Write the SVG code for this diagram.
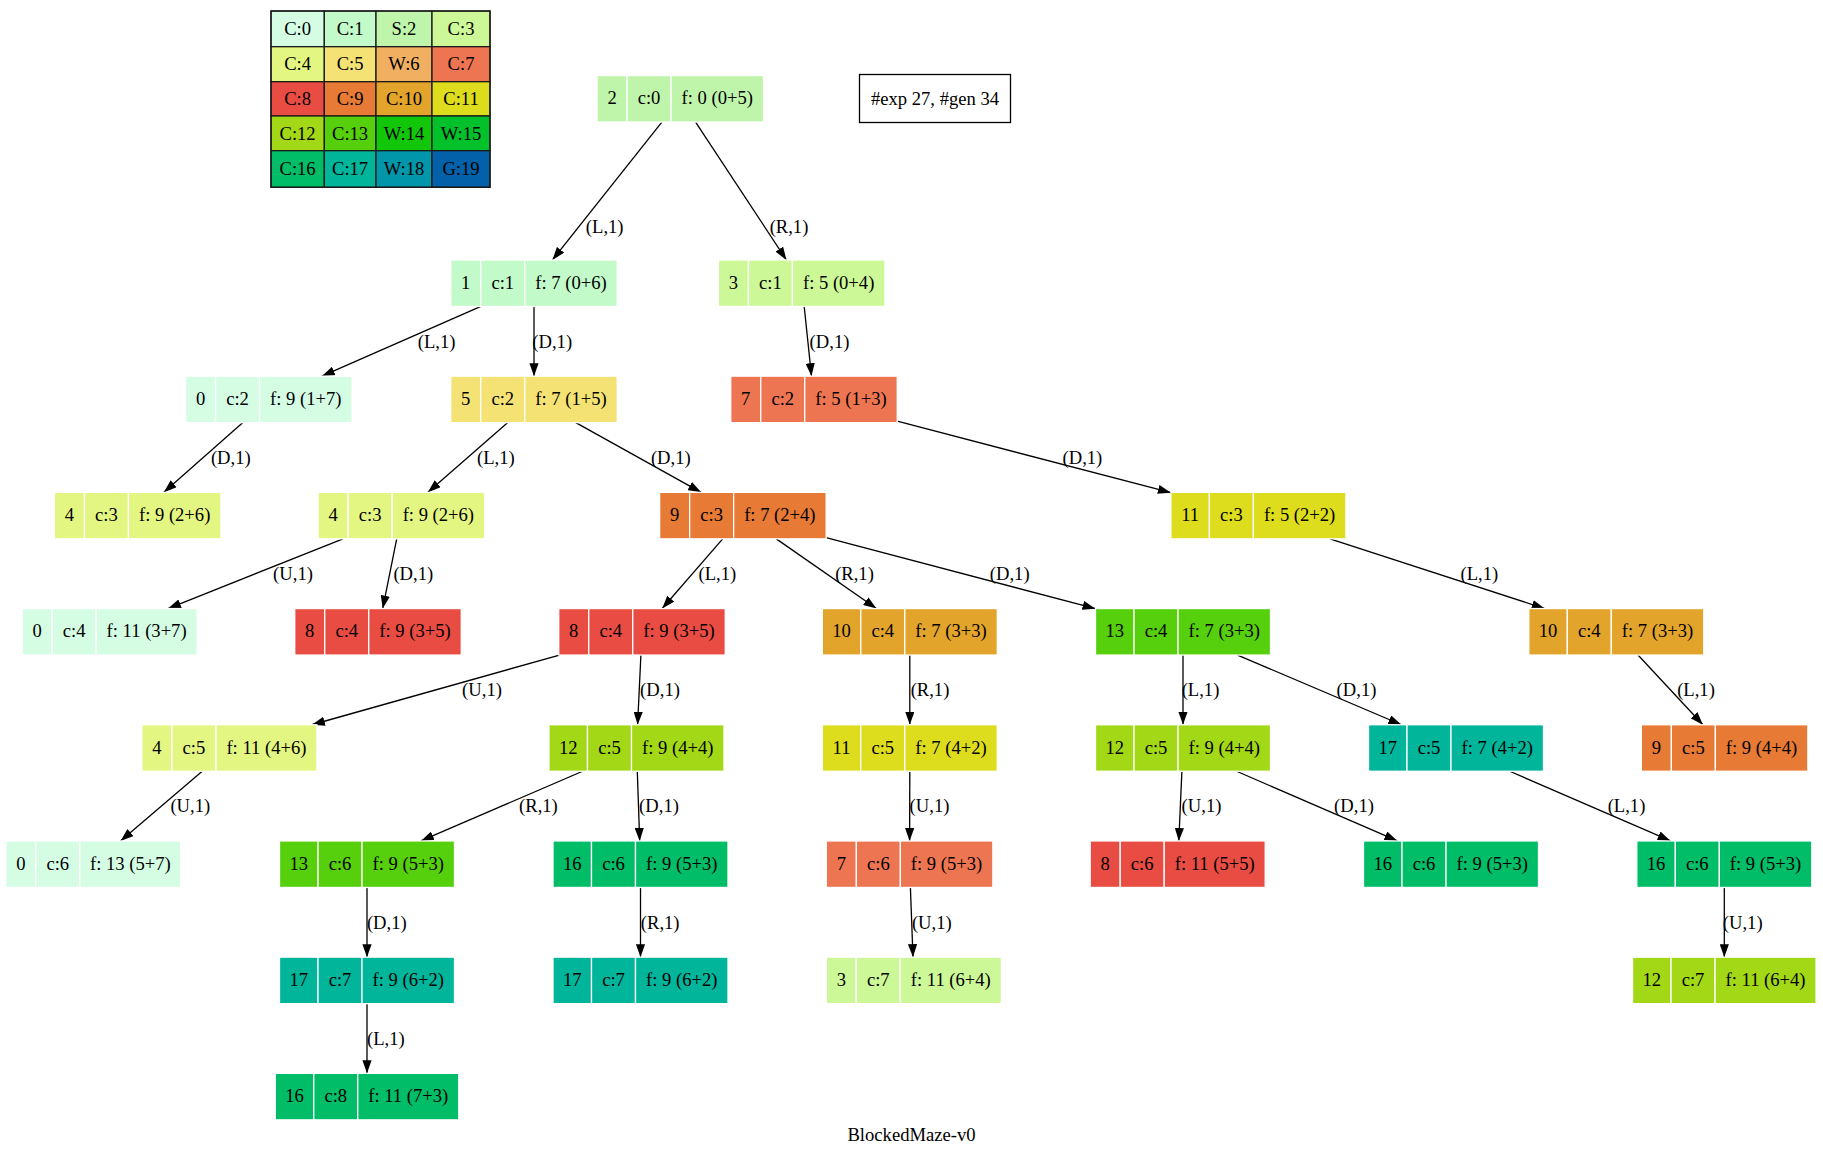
<svg xmlns="http://www.w3.org/2000/svg" width="1823" height="1155" viewBox="0 0 1823 1155">
<defs>
<style>
text{font-family:"Liberation Serif","Times New Roman",serif;font-size:18.6px;fill:#000;text-anchor:middle}
.node rect{stroke:#fff;stroke-width:1.3}
.leg rect{stroke:#1a1a1a;stroke-width:1.3}
#edges path{fill:none;stroke:#000;stroke-width:1.3;marker-end:url(#ah)}
.k0{fill:#d4fde4}.k1{fill:#c3fac9}.k2{fill:#bff5aa}.k3{fill:#cdf897}.k4{fill:#e4f682}
.k5{fill:#f4e374}.k6{fill:#f1b061}.k7{fill:#ee7552}.k8{fill:#e84c43}.k9{fill:#e77a34}
.k10{fill:#e2a42b}.k11{fill:#dedd1d}.k12{fill:#a3d816}.k13{fill:#56cf0d}.k14{fill:#12c70a}
.k15{fill:#03c12a}.k16{fill:#02bd68}.k17{fill:#01b59b}.k18{fill:#0196aa}.k19{fill:#0261a8}
</style>
<marker id="ah" viewBox="0 0 13 9.2" refX="13" refY="4.6" markerWidth="13" markerHeight="9.2" orient="auto" markerUnits="userSpaceOnUse">
<path d="M0,0 L13,4.6 L0,9.2 z" fill="#000"/>
</marker>
</defs>
<rect width="1823" height="1155" fill="#fff"/>

<!-- legend grid of cell kinds -->
<g id="legend" class="leg">
<rect class="k0" x="271" y="11" width="53.3" height="35.7"/><rect class="k1" x="324.3" y="11" width="51.7" height="35.7"/><rect class="k2" x="376" y="11" width="56" height="35.7"/><rect class="k3" x="432" y="11" width="58" height="35.7"/>
<rect class="k4" x="271" y="46.7" width="53.3" height="35"/><rect class="k5" x="324.3" y="46.7" width="51.7" height="35"/><rect class="k6" x="376" y="46.7" width="56" height="35"/><rect class="k7" x="432" y="46.7" width="58" height="35"/>
<rect class="k8" x="271" y="81.7" width="53.3" height="34.3"/><rect class="k9" x="324.3" y="81.7" width="51.7" height="34.3"/><rect class="k10" x="376" y="81.7" width="56" height="34.3"/><rect class="k11" x="432" y="81.7" width="58" height="34.3"/>
<rect class="k12" x="271" y="116" width="53.3" height="34.7"/><rect class="k13" x="324.3" y="116" width="51.7" height="34.7"/><rect class="k14" x="376" y="116" width="56" height="34.7"/><rect class="k15" x="432" y="116" width="58" height="34.7"/>
<rect class="k16" x="271" y="150.7" width="53.3" height="36.6"/><rect class="k17" x="324.3" y="150.7" width="51.7" height="36.6"/><rect class="k18" x="376" y="150.7" width="56" height="36.6"/><rect class="k19" x="432" y="150.7" width="58" height="36.6"/>
<rect x="271" y="11" width="219" height="176.3" fill="none" stroke="#1a1a1a" stroke-width="2.8"/>
<text x="297.6" y="35">C:0</text><text x="350.1" y="35">C:1</text><text x="404" y="35">S:2</text><text x="461" y="35">C:3</text>
<text x="297.6" y="70.3">C:4</text><text x="350.1" y="70.3">C:5</text><text x="404" y="70.3">W:6</text><text x="461" y="70.3">C:7</text>
<text x="297.6" y="105">C:8</text><text x="350.1" y="105">C:9</text><text x="404" y="105">C:10</text><text x="461" y="105">C:11</text>
<text x="297.6" y="139.5">C:12</text><text x="350.1" y="139.5">C:13</text><text x="404" y="139.5">W:14</text><text x="461" y="139.5">W:15</text>
<text x="297.6" y="175">C:16</text><text x="350.1" y="175">C:17</text><text x="404" y="175">W:18</text><text x="461" y="175">G:19</text>
</g>

<!-- search statistics -->
<g id="stats">
<rect x="859.5" y="74.5" width="151" height="48" fill="#fff" stroke="#000" stroke-width="1.3"/>
<text x="935" y="104.5">#exp 27, #gen 34</text>
</g>

<!-- connectors -->
<g id="edges">
<path d="M661.85,122.05 L552.45,259.95"/>
<path d="M695.6,122.05 L786.4,259.95"/>
<path d="M480.9,306.45 L321.9,376.15"/>
<path d="M534,306.45 L534,376.15"/>
<path d="M804.2,306.45 L811.5,376.15"/>
<path d="M242.6,422.65 L163.9,492.35"/>
<path d="M507.5,422.65 L427.9,492.35"/>
<path d="M575.8,422.65 L701.1,492.35"/>
<path d="M897.25,421.2 L1170.9,492.7"/>
<path d="M343,538.85 L168,608.55"/>
<path d="M396.7,538.85 L382.7,608.55"/>
<path d="M722.7,538.85 L662.2,608.55"/>
<path d="M776.3,538.85 L876.4,608.55"/>
<path d="M826.15,537.6 L1095.5,608.7"/>
<path d="M1330,538.85 L1544.7,608.55"/>
<path d="M559.5,655.05 L311.9,724.75"/>
<path d="M640.9,655.05 L637.6,724.75"/>
<path d="M909.8,655.05 L909.8,724.75"/>
<path d="M1183,655.05 L1183,724.75"/>
<path d="M1237.6,655.05 L1401.4,724.75"/>
<path d="M1638,655.05 L1702.9,724.75"/>
<path d="M202.2,771.25 L120.5,840.95"/>
<path d="M582.6,771.25 L420.9,840.95"/>
<path d="M637.3,771.25 L639.7,840.95"/>
<path d="M909.8,771.25 L909.6,840.95"/>
<path d="M1181.9,771.25 L1178.8,840.95"/>
<path d="M1236.6,771.25 L1397.4,840.95"/>
<path d="M1509.7,771.25 L1670.6,840.95"/>
<path d="M367,887.45 L367,957.15"/>
<path d="M640.5,887.45 L640.5,957.15"/>
<path d="M910.4,887.45 L913,957.15"/>
<path d="M1724.3,887.45 L1724.3,957.15"/>
<path d="M367,1003.65 L367,1073.35"/>
</g>

<!-- connector labels -->
<g id="edge-labels">
<text x="604.7" y="232.7">(L,1)</text>
<text x="789" y="232.7">(R,1)</text>
<text x="436.6" y="347.6">(L,1)</text>
<text x="552.2" y="347.6">(D,1)</text>
<text x="829.5" y="347.6">(D,1)</text>
<text x="230.8" y="463.8">(D,1)</text>
<text x="495.8" y="463.8">(L,1)</text>
<text x="670.8" y="463.8">(D,1)</text>
<text x="1082.4" y="463.8">(D,1)</text>
<text x="293" y="580">(U,1)</text>
<text x="413.3" y="580">(D,1)</text>
<text x="717.3" y="580">(L,1)</text>
<text x="854.5" y="580">(R,1)</text>
<text x="1009.7" y="580">(D,1)</text>
<text x="1479.4" y="580">(L,1)</text>
<text x="482" y="696.2">(U,1)</text>
<text x="660" y="696.2">(D,1)</text>
<text x="930" y="696.2">(R,1)</text>
<text x="1200.5" y="696.2">(L,1)</text>
<text x="1356.5" y="696.2">(D,1)</text>
<text x="1696" y="696.2">(L,1)</text>
<text x="190.3" y="812.4">(U,1)</text>
<text x="538.4" y="812.4">(R,1)</text>
<text x="659" y="812.4">(D,1)</text>
<text x="929.5" y="812.4">(U,1)</text>
<text x="1201.5" y="812.4">(U,1)</text>
<text x="1354" y="812.4">(D,1)</text>
<text x="1626.5" y="812.4">(L,1)</text>
<text x="386.8" y="928.6">(D,1)</text>
<text x="660.2" y="928.6">(R,1)</text>
<text x="931.8" y="928.6">(U,1)</text>
<text x="1742.7" y="928.6">(U,1)</text>
<text x="385.8" y="1044.8">(L,1)</text>
</g>

<!-- search tree nodes: id | cost | f-value -->
<g id="n2" class="node" transform="translate(597.05,75.55)"><rect class="k2" width="30" height="46.5"/><rect class="k2" x="30" width="44" height="46.5"/><rect class="k2" x="74" width="92.5" height="46.5"/><text x="15" y="28.8">2</text><text x="52" y="28.8">c:0</text><text x="120.2" y="28.8">f: 0 (0+5)</text></g>

<g id="n1" class="node" transform="translate(450.75,259.95)"><rect class="k1" width="30" height="46.5"/><rect class="k1" x="30" width="44" height="46.5"/><rect class="k1" x="74" width="92.5" height="46.5"/><text x="15" y="28.8">1</text><text x="52" y="28.8">c:1</text><text x="120.2" y="28.8">f: 7 (0+6)</text></g>
<g id="n3" class="node" transform="translate(718.45,259.95)"><rect class="k3" width="30" height="46.5"/><rect class="k3" x="30" width="44" height="46.5"/><rect class="k3" x="74" width="92.5" height="46.5"/><text x="15" y="28.8">3</text><text x="52" y="28.8">c:1</text><text x="120.2" y="28.8">f: 5 (0+4)</text></g>

<g id="n0a" class="node" transform="translate(185.55,376.15)"><rect class="k0" width="30" height="46.5"/><rect class="k0" x="30" width="44" height="46.5"/><rect class="k0" x="74" width="92.5" height="46.5"/><text x="15" y="28.8">0</text><text x="52" y="28.8">c:2</text><text x="120.2" y="28.8">f: 9 (1+7)</text></g>
<g id="n5" class="node" transform="translate(450.75,376.15)"><rect class="k5" width="30" height="46.5"/><rect class="k5" x="30" width="44" height="46.5"/><rect class="k5" x="74" width="92.5" height="46.5"/><text x="15" y="28.8">5</text><text x="52" y="28.8">c:2</text><text x="120.2" y="28.8">f: 7 (1+5)</text></g>
<g id="n7a" class="node" transform="translate(730.75,376.15)"><rect class="k7" width="30" height="46.5"/><rect class="k7" x="30" width="44" height="46.5"/><rect class="k7" x="74" width="92.5" height="46.5"/><text x="15" y="28.8">7</text><text x="52" y="28.8">c:2</text><text x="120.2" y="28.8">f: 5 (1+3)</text></g>

<g id="n4a" class="node" transform="translate(54.45,492.35)"><rect class="k4" width="30" height="46.5"/><rect class="k4" x="30" width="44" height="46.5"/><rect class="k4" x="74" width="92.5" height="46.5"/><text x="15" y="28.8">4</text><text x="52" y="28.8">c:3</text><text x="120.2" y="28.8">f: 9 (2+6)</text></g>
<g id="n4b" class="node" transform="translate(318.15,492.35)"><rect class="k4" width="30" height="46.5"/><rect class="k4" x="30" width="44" height="46.5"/><rect class="k4" x="74" width="92.5" height="46.5"/><text x="15" y="28.8">4</text><text x="52" y="28.8">c:3</text><text x="120.2" y="28.8">f: 9 (2+6)</text></g>
<g id="n9a" class="node" transform="translate(659.65,492.35)"><rect class="k9" width="30" height="46.5"/><rect class="k9" x="30" width="44" height="46.5"/><rect class="k9" x="74" width="92.5" height="46.5"/><text x="15" y="28.8">9</text><text x="52" y="28.8">c:3</text><text x="120.2" y="28.8">f: 7 (2+4)</text></g>
<g id="n11a" class="node" transform="translate(1170.9,492.35)"><rect class="k11" width="38.5" height="46.5"/><rect class="k11" x="38.5" width="44" height="46.5"/><rect class="k11" x="82.5" width="92.5" height="46.5"/><text x="19.2" y="28.8">11</text><text x="60.5" y="28.8">c:3</text><text x="128.7" y="28.8">f: 5 (2+2)</text></g>

<g id="n0b" class="node" transform="translate(22.1,608.55)"><rect class="k0" width="30" height="46.5"/><rect class="k0" x="30" width="44" height="46.5"/><rect class="k0" x="74" width="101" height="46.5"/><text x="15" y="28.8">0</text><text x="52" y="28.8">c:4</text><text x="124.5" y="28.8">f: 11 (3+7)</text></g>
<g id="n8a" class="node" transform="translate(294.75,608.55)"><rect class="k8" width="30" height="46.5"/><rect class="k8" x="30" width="44" height="46.5"/><rect class="k8" x="74" width="92.5" height="46.5"/><text x="15" y="28.8">8</text><text x="52" y="28.8">c:4</text><text x="120.2" y="28.8">f: 9 (3+5)</text></g>
<g id="n8b" class="node" transform="translate(558.75,608.55)"><rect class="k8" width="30" height="46.5"/><rect class="k8" x="30" width="44" height="46.5"/><rect class="k8" x="74" width="92.5" height="46.5"/><text x="15" y="28.8">8</text><text x="52" y="28.8">c:4</text><text x="120.2" y="28.8">f: 9 (3+5)</text></g>
<g id="n10a" class="node" transform="translate(822.3,608.55)"><rect class="k10" width="38.5" height="46.5"/><rect class="k10" x="38.5" width="44" height="46.5"/><rect class="k10" x="82.5" width="92.5" height="46.5"/><text x="19.2" y="28.8">10</text><text x="60.5" y="28.8">c:4</text><text x="128.7" y="28.8">f: 7 (3+3)</text></g>
<g id="n13a" class="node" transform="translate(1095.5,608.55)"><rect class="k13" width="38.5" height="46.5"/><rect class="k13" x="38.5" width="44" height="46.5"/><rect class="k13" x="82.5" width="92.5" height="46.5"/><text x="19.2" y="28.8">13</text><text x="60.5" y="28.8">c:4</text><text x="128.7" y="28.8">f: 7 (3+3)</text></g>
<g id="n10b" class="node" transform="translate(1528.8,608.55)"><rect class="k10" width="38.5" height="46.5"/><rect class="k10" x="38.5" width="44" height="46.5"/><rect class="k10" x="82.5" width="92.5" height="46.5"/><text x="19.2" y="28.8">10</text><text x="60.5" y="28.8">c:4</text><text x="128.7" y="28.8">f: 7 (3+3)</text></g>

<g id="n4c" class="node" transform="translate(141.9,724.75)"><rect class="k4" width="30" height="46.5"/><rect class="k4" x="30" width="44" height="46.5"/><rect class="k4" x="74" width="101" height="46.5"/><text x="15" y="28.8">4</text><text x="52" y="28.8">c:5</text><text x="124.5" y="28.8">f: 11 (4+6)</text></g>
<g id="n12a" class="node" transform="translate(549,724.75)"><rect class="k12" width="38.5" height="46.5"/><rect class="k12" x="38.5" width="44" height="46.5"/><rect class="k12" x="82.5" width="92.5" height="46.5"/><text x="19.2" y="28.8">12</text><text x="60.5" y="28.8">c:5</text><text x="128.7" y="28.8">f: 9 (4+4)</text></g>
<g id="n11b" class="node" transform="translate(822.3,724.75)"><rect class="k11" width="38.5" height="46.5"/><rect class="k11" x="38.5" width="44" height="46.5"/><rect class="k11" x="82.5" width="92.5" height="46.5"/><text x="19.2" y="28.8">11</text><text x="60.5" y="28.8">c:5</text><text x="128.7" y="28.8">f: 7 (4+2)</text></g>
<g id="n12b" class="node" transform="translate(1095.5,724.75)"><rect class="k12" width="38.5" height="46.5"/><rect class="k12" x="38.5" width="44" height="46.5"/><rect class="k12" x="82.5" width="92.5" height="46.5"/><text x="19.2" y="28.8">12</text><text x="60.5" y="28.8">c:5</text><text x="128.7" y="28.8">f: 9 (4+4)</text></g>
<g id="n17a" class="node" transform="translate(1368.5,724.75)"><rect class="k17" width="38.5" height="46.5"/><rect class="k17" x="38.5" width="44" height="46.5"/><rect class="k17" x="82.5" width="92.5" height="46.5"/><text x="19.2" y="28.8">17</text><text x="60.5" y="28.8">c:5</text><text x="128.7" y="28.8">f: 7 (4+2)</text></g>
<g id="n9b" class="node" transform="translate(1641.35,724.75)"><rect class="k9" width="30" height="46.5"/><rect class="k9" x="30" width="44" height="46.5"/><rect class="k9" x="74" width="92.5" height="46.5"/><text x="15" y="28.8">9</text><text x="52" y="28.8">c:5</text><text x="120.2" y="28.8">f: 9 (4+4)</text></g>

<g id="n0c" class="node" transform="translate(5.8,840.95)"><rect class="k0" width="30" height="46.5"/><rect class="k0" x="30" width="44" height="46.5"/><rect class="k0" x="74" width="101" height="46.5"/><text x="15" y="28.8">0</text><text x="52" y="28.8">c:6</text><text x="124.5" y="28.8">f: 13 (5+7)</text></g>
<g id="n13b" class="node" transform="translate(279.5,840.95)"><rect class="k13" width="38.5" height="46.5"/><rect class="k13" x="38.5" width="44" height="46.5"/><rect class="k13" x="82.5" width="92.5" height="46.5"/><text x="19.2" y="28.8">13</text><text x="60.5" y="28.8">c:6</text><text x="128.7" y="28.8">f: 9 (5+3)</text></g>
<g id="n16a" class="node" transform="translate(553,840.95)"><rect class="k16" width="38.5" height="46.5"/><rect class="k16" x="38.5" width="44" height="46.5"/><rect class="k16" x="82.5" width="92.5" height="46.5"/><text x="19.2" y="28.8">16</text><text x="60.5" y="28.8">c:6</text><text x="128.7" y="28.8">f: 9 (5+3)</text></g>
<g id="n7b" class="node" transform="translate(826.35,840.95)"><rect class="k7" width="30" height="46.5"/><rect class="k7" x="30" width="44" height="46.5"/><rect class="k7" x="74" width="92.5" height="46.5"/><text x="15" y="28.8">7</text><text x="52" y="28.8">c:6</text><text x="120.2" y="28.8">f: 9 (5+3)</text></g>
<g id="n8c" class="node" transform="translate(1090.2,840.95)"><rect class="k8" width="30" height="46.5"/><rect class="k8" x="30" width="44" height="46.5"/><rect class="k8" x="74" width="101" height="46.5"/><text x="15" y="28.8">8</text><text x="52" y="28.8">c:6</text><text x="124.5" y="28.8">f: 11 (5+5)</text></g>
<g id="n16b" class="node" transform="translate(1363.5,840.95)"><rect class="k16" width="38.5" height="46.5"/><rect class="k16" x="38.5" width="44" height="46.5"/><rect class="k16" x="82.5" width="92.5" height="46.5"/><text x="19.2" y="28.8">16</text><text x="60.5" y="28.8">c:6</text><text x="128.7" y="28.8">f: 9 (5+3)</text></g>
<g id="n16c" class="node" transform="translate(1636.8,840.95)"><rect class="k16" width="38.5" height="46.5"/><rect class="k16" x="38.5" width="44" height="46.5"/><rect class="k16" x="82.5" width="92.5" height="46.5"/><text x="19.2" y="28.8">16</text><text x="60.5" y="28.8">c:6</text><text x="128.7" y="28.8">f: 9 (5+3)</text></g>

<g id="n17b" class="node" transform="translate(279.5,957.15)"><rect class="k17" width="38.5" height="46.5"/><rect class="k17" x="38.5" width="44" height="46.5"/><rect class="k17" x="82.5" width="92.5" height="46.5"/><text x="19.2" y="28.8">17</text><text x="60.5" y="28.8">c:7</text><text x="128.7" y="28.8">f: 9 (6+2)</text></g>
<g id="n17c" class="node" transform="translate(553,957.15)"><rect class="k17" width="38.5" height="46.5"/><rect class="k17" x="38.5" width="44" height="46.5"/><rect class="k17" x="82.5" width="92.5" height="46.5"/><text x="19.2" y="28.8">17</text><text x="60.5" y="28.8">c:7</text><text x="128.7" y="28.8">f: 9 (6+2)</text></g>
<g id="n3b" class="node" transform="translate(826.3,957.15)"><rect class="k3" width="30" height="46.5"/><rect class="k3" x="30" width="44" height="46.5"/><rect class="k3" x="74" width="101" height="46.5"/><text x="15" y="28.8">3</text><text x="52" y="28.8">c:7</text><text x="124.5" y="28.8">f: 11 (6+4)</text></g>
<g id="n12c" class="node" transform="translate(1632.55,957.15)"><rect class="k12" width="38.5" height="46.5"/><rect class="k12" x="38.5" width="44" height="46.5"/><rect class="k12" x="82.5" width="101" height="46.5"/><text x="19.2" y="28.8">12</text><text x="60.5" y="28.8">c:7</text><text x="133" y="28.8">f: 11 (6+4)</text></g>

<g id="n16d" class="node" transform="translate(275.25,1073.35)"><rect class="k16" width="38.5" height="46.5"/><rect class="k16" x="38.5" width="44" height="46.5"/><rect class="k16" x="82.5" width="101" height="46.5"/><text x="19.2" y="28.8">16</text><text x="60.5" y="28.8">c:8</text><text x="133" y="28.8">f: 11 (7+3)</text></g>

<text id="title" x="911.5" y="1140.8">BlockedMaze-v0</text>
</svg>
